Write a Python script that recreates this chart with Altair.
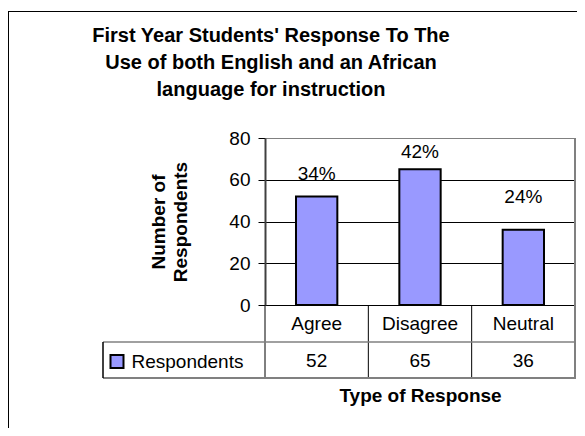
import altair as alt
import pandas as pd

# ---- data ----
categories = ["Agree", "Disagree", "Neutral"]
respondents = [52, 65, 36]
percent_labels = ["34%", "42%", "24%"]
percent_label_y = [60, 70.4, 49]          # where each % label sits, in respondent units
series_name = "Respondents"
y_ticks = [0, 20, 40, 60, 80]
title_lines = ["First Year Students' Response To The",
               "Use of both English and an African",
               "language for instruction"]
y_title = ["Number of", "Respondents"]
x_title = "Type of Response"

FONT = "Liberation Sans"
FS = 19
TFS = 20
W, H = 310, 167
BAR = "#9999FF"
GRAY = "#808080"

df = pd.DataFrame({
    "cat": categories,
    "value": respondents,
    "pct": percent_labels,
    "pct_y": percent_label_y,
    "series": [series_name] * len(categories),
})
one = pd.DataFrame({"k": [0]})

xscale = alt.Scale(domain=categories, paddingInner=0, paddingOuter=0)
yscale = alt.Scale(domain=[0, 80], nice=False)

xaxis = alt.Axis(
    title=x_title, titleFontSize=FS, titleFontWeight="bold", titleColor="black",
    titleBaseline="alphabetic", titleY=96, titleFont=FONT,
    labelFontSize=FS, labelColor="black", labelFont=FONT, labelAngle=0,
    labelBaseline="alphabetic", labelPadding=24,
    ticks=False, domain=False, grid=False,
)
yaxis = alt.Axis(
    title=y_title, titleFontSize=FS, titleFontWeight="bold", titleColor="black",
    titleFont=FONT, titleAngle=270, titleBaseline="alphabetic", titleAlign="center",
    titleX=-101, titleY=H / 2, titleLineHeight=22,
    values=y_ticks, labelFontSize=FS, labelColor="black", labelFont=FONT,
    labelPadding=8, tickSize=7, tickColor="black", tickWidth=1,
    domainColor="#404040", domainWidth=2,
    grid=True, gridWidth=1,
    gridColor={"condition": {"test": "datum.value === 80", "value": GRAY}, "value": "black"},
)

base = alt.Chart(df)

bars = base.mark_bar(width=alt.RelativeBandSize(0.4), stroke="black", strokeWidth=2).encode(
    x=alt.X("cat:N", scale=xscale, axis=xaxis, sort=categories),
    y=alt.Y("value:Q", scale=yscale, axis=yaxis),
    color=alt.Color("series:N", scale=alt.Scale(range=[BAR]), legend=alt.Legend(
        orient="none", legendX=-157.5, legendY=214, title=None, padding=0,
        symbolType="square", symbolSize=169, symbolStrokeColor="black",
        symbolStrokeWidth=2, symbolOpacity=1,
        labelFontSize=FS, labelFont=FONT, labelColor="black", labelOffset=5,
    )),
)

pct = base.mark_text(fontSize=FS, font=FONT, color="black", baseline="alphabetic").encode(
    x=alt.X("cat:N", scale=xscale, axis=xaxis, sort=categories),
    y=alt.Y("pct_y:Q", scale=yscale, axis=yaxis),
    text="pct:N",
)

vals = base.mark_text(fontSize=FS, font=FONT, color="black", baseline="alphabetic").encode(
    x=alt.X("cat:N", scale=xscale, axis=xaxis, sort=categories),
    y=alt.value(229),
    text="value:Q",
)

dividers = base.mark_rule(color="black", strokeWidth=1).encode(
    x=alt.X("cat:N", scale=xscale, axis=xaxis, sort=categories, bandPosition=0),
    y=alt.value(H), y2=alt.value(240),
)

line = alt.Chart(one)
right_border = line.mark_rule(color=GRAY, strokeWidth=2).encode(
    x=alt.value(W), y=alt.value(0), y2=alt.value(241))
row_line = line.mark_rule(color=GRAY, strokeWidth=1.5).encode(
    x=alt.value(-162), x2=alt.value(W), y=alt.value(204))
bottom_line = line.mark_rule(color=GRAY, strokeWidth=2).encode(
    x=alt.value(-162), x2=alt.value(W + 1), y=alt.value(240))
legend_left = line.mark_rule(color="black", strokeWidth=1.5).encode(
    x=alt.value(-162), y=alt.value(204), y2=alt.value(240))
frame_left = line.mark_rule(color="black", strokeWidth=1).encode(
    x=alt.value(-256.5), y=alt.value(-127), y2=alt.value(300))
frame_top = line.mark_rule(color="black", strokeWidth=1).encode(
    x=alt.value(-257), x2=alt.value(W + 2), y=alt.value(-126.5))

title = line.mark_text(fontSize=TFS, font=FONT, fontWeight="bold", color="black",
                       align="center", baseline="alphabetic", lineHeight=27).encode(
    x=alt.value(6), y=alt.value(-96), text=alt.value(title_lines))

chart = alt.layer(
    frame_left, frame_top, bars, pct, vals, dividers,
    right_border, row_line, bottom_line, legend_left, title,
).properties(
    width=W, height=H,
    autosize=alt.AutoSizeParams(type="none"),
    padding={"left": 257, "top": 130, "right": 2, "bottom": 123},
).configure_view(
    stroke=GRAY, strokeWidth=2,
).configure(font=FONT)

chart.save("out.html", embed_options={"renderer": "svg", "actions": False})
